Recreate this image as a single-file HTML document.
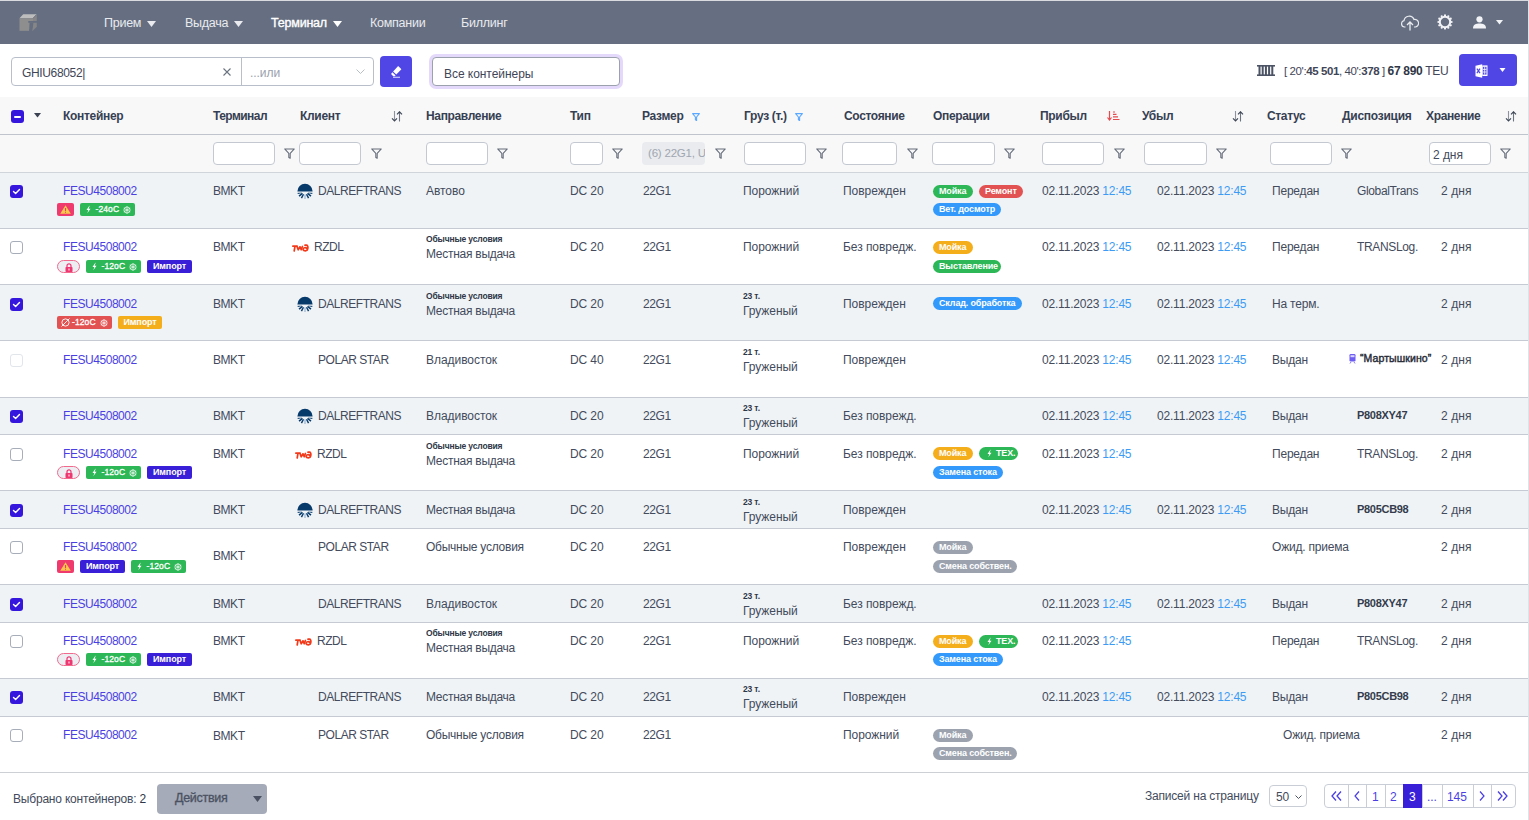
<!DOCTYPE html><html><head><meta charset="utf-8"><style>
*{margin:0;padding:0;box-sizing:border-box}
html,body{width:1529px;height:820px;overflow:hidden;background:#fff;font-family:"Liberation Sans",sans-serif;color:#434b5c}
.a{position:absolute}
.t{position:absolute;white-space:nowrap;line-height:1;letter-spacing:-0.05px}
.b{font-weight:bold}
.hd{color:#364052;font-weight:bold;letter-spacing:-0.3px}
.lnk{color:#4b3fe3;letter-spacing:-0.45px}
.up{letter-spacing:-0.45px}
.tm{color:#3d9bf5}
.sm{font-weight:bold;color:#2f3747;letter-spacing:-0.15px}
.inp{position:absolute;background:#fff;border:1px solid #c3c8d1;border-radius:4px}
.cb{position:absolute;width:13px;height:13px;border-radius:3px}
.cbon{background:#3416dc}
.cboff{background:#fff;border:1px solid #a7adb9}
.cbdis{background:#fff;border:1px solid #e2e5ea}
.tag{position:absolute;height:13px;border-radius:2px;color:#fff;font-weight:bold;font-size:9px;line-height:13px;white-space:nowrap;letter-spacing:-0.1px}
.pill{position:absolute;height:13px;border-radius:7px;color:#fff;font-weight:bold;font-size:9px;line-height:13px;white-space:nowrap;letter-spacing:-0.15px;padding-left:6px}
.nav{color:#e9ebef;letter-spacing:-0.25px}
</style></head><body>
<div class="a " style="left:0px;top:0px;width:1529px;height:44px;background:#666f81"></div>
<div class="a " style="left:0px;top:0px;width:1529px;height:1px;background:#d9dbe0"></div>
<svg class="a" style="left:19px;top:14px;" width="19" height="18" viewBox="0 0 19 18"><path d="M0.5 4.2 L4.2 0.3 H17.8 L14 4.2 Z" fill="#bdbdbd"/><rect x="0.5" y="4.2" width="13.5" height="12.6" fill="#8e8e8e"/><path d="M14 4.2 L17.8 0.5 V12.8 L14 16.5 Z" fill="#868686"/><path d="M14 4.2 L17.8 0.4" stroke="#666f81" stroke-width="0.7"/><rect x="9.3" y="7" width="9.5" height="1.8" fill="#666f81"/><path d="M10.6 8.7 H14.4 L13.4 17.5 H10 Z" fill="#666f81"/></svg>
<div class="t nav" style="left:104px;top:17.42px;font-size:12.5px;">Прием</div>
<svg class="a" style="left:147px;top:21px;" width="9" height="6" viewBox="0 0 9 6"><path d="M0 0 H9 L4.5 6 Z" fill="#e9ebef"/></svg>
<div class="t nav" style="left:185px;top:17.42px;font-size:12.5px;">Выдача</div>
<svg class="a" style="left:234px;top:21px;" width="9" height="6" viewBox="0 0 9 6"><path d="M0 0 H9 L4.5 6 Z" fill="#e9ebef"/></svg>
<div class="t nav" style="left:271px;top:17.42px;font-size:12.5px;color:#fff;-webkit-text-stroke:0.35px #fff;letter-spacing:-0.2px">Терминал</div>
<svg class="a" style="left:333px;top:21px;" width="9" height="6" viewBox="0 0 9 6"><path d="M0 0 H9 L4.5 6 Z" fill="#fff"/></svg>
<div class="t nav" style="left:370px;top:17.42px;font-size:12.5px;">Компании</div>
<div class="t nav" style="left:461px;top:17.42px;font-size:12.5px;">Биллинг</div>
<svg class="a" style="left:1401px;top:15px;" width="18" height="16" viewBox="0 0 18 16"><path d="M4.5 12 H3.5 A3.2 3.2 0 0 1 3 5.7 A5.2 5.2 0 0 1 13 4.5 A3.6 3.6 0 0 1 14.5 12 H13" fill="none" stroke="#e9ebef" stroke-width="1.2"/><path d="M9 15.5 V7.5 M6 10 L9 7 L12 10" fill="none" stroke="#e9ebef" stroke-width="1.3"/></svg>
<svg class="a" style="left:1437px;top:14px;" width="16" height="16" viewBox="0 0 16 16"><circle cx="8" cy="8" r="5.2" fill="none" stroke="#f2f3f6" stroke-width="2"/><circle cx="14.60" cy="8.00" r="1.1" fill="#f2f3f6"/><circle cx="13.72" cy="11.30" r="1.1" fill="#f2f3f6"/><circle cx="11.30" cy="13.72" r="1.1" fill="#f2f3f6"/><circle cx="8.00" cy="14.60" r="1.1" fill="#f2f3f6"/><circle cx="4.70" cy="13.72" r="1.1" fill="#f2f3f6"/><circle cx="2.28" cy="11.30" r="1.1" fill="#f2f3f6"/><circle cx="1.40" cy="8.00" r="1.1" fill="#f2f3f6"/><circle cx="2.28" cy="4.70" r="1.1" fill="#f2f3f6"/><circle cx="4.70" cy="2.28" r="1.1" fill="#f2f3f6"/><circle cx="8.00" cy="1.40" r="1.1" fill="#f2f3f6"/><circle cx="11.30" cy="2.28" r="1.1" fill="#f2f3f6"/><circle cx="13.72" cy="4.70" r="1.1" fill="#f2f3f6"/></svg>
<svg class="a" style="left:1473px;top:16px;" width="13" height="13" viewBox="0 0 13 13"><circle cx="6.5" cy="3.3" r="3.1" fill="#f2f3f6"/><path d="M0 12.5 C0 8.5 3 7.6 6.5 7.6 C10 7.6 13 8.5 13 12.5 Z" fill="#f2f3f6"/></svg>
<svg class="a" style="left:1496px;top:20px;" width="7" height="5" viewBox="0 0 7 5"><path d="M0 0 H7 L3.5 4.5 Z" fill="#f2f3f6"/></svg>
<div class="a " style="left:11px;top:57px;width:363px;height:29px;background:#fff;border:1px solid #b9bfca;border-radius:4px"></div>
<div class="a " style="left:241px;top:57px;width:1px;height:29px;background:#b9bfca"></div>
<div class="t " style="left:22px;top:66.84px;font-size:12px;color:#3f4657;letter-spacing:-0.35px">GHIU68052|</div>
<svg class="a" style="left:223px;top:68px;" width="8" height="8" viewBox="0 0 8 8"><path d="M0.5 0.5 L7.5 7.5 M7.5 0.5 L0.5 7.5" stroke="#6b7280" stroke-width="1.1"/></svg>
<div class="t " style="left:250px;top:66.84px;font-size:12px;color:#9aa1ad">...или</div>
<svg class="a" style="left:356px;top:69px;" width="9" height="6" viewBox="0 0 9 6"><path d="M0.5 0.5 L4.5 4.5 L8.5 0.5" stroke="#b8bec8" stroke-width="1" fill="none"/></svg>
<div class="a " style="left:380px;top:56px;width:32px;height:31px;background:#4f46e5;border-radius:4px"></div>
<svg class="a" style="left:389px;top:63px;" width="14" height="16" viewBox="0 0 14 16"><path d="M9.2 3.1 L12.4 6.3 L7.3 11.6 L4.1 8.4 Z" fill="#fff"/><path d="M3.4 9.2 L6.6 12.4 L5.7 13.2 H4.2 L2.1 11.1 Z" fill="#fff"/><path d="M4 14.3 H11" stroke="#c9c5f7" stroke-width="1.2"/></svg>
<div class="a " style="left:429px;top:54px;width:194px;height:35px;background:#e5d9fb;border-radius:7px"></div>
<div class="a " style="left:432px;top:57px;width:188px;height:29px;background:#fff;border:1px solid #9ba2ae;border-radius:4px"></div>
<div class="t " style="left:444px;top:67.84px;font-size:12px;color:#3f4657">Все контейнеры</div>
<svg class="a" style="left:1257px;top:65px;" width="18" height="11" viewBox="0 0 18 11"><rect x="0" y="0" width="18" height="1.6" fill="#4b5364"/><rect x="0" y="9.4" width="18" height="1.6" fill="#4b5364"/><rect x="1.5" y="1" width="2" height="9" fill="#4b5364"/><rect x="4.7" y="1" width="2" height="9" fill="#4b5364"/><rect x="7.9" y="1" width="2" height="9" fill="#4b5364"/><rect x="11.1" y="1" width="2" height="9" fill="#4b5364"/><rect x="14.3" y="1" width="2" height="9" fill="#4b5364"/></svg>
<div class="t" style="left:1284px;top:65.27px;font-size:11.5px;color:#3f4657;letter-spacing:-0.4px">[ 20':<b>45 501</b>, 40':<b>378</b> ] <b style="font-size:12px;color:#2f3747;letter-spacing:-0.3px">67 890</b> <span style="font-size:12px;letter-spacing:-0.3px">TEU</span></div>
<div class="a " style="left:1459px;top:54px;width:58px;height:32px;background:#4f46e5;border-radius:4px"></div>
<svg class="a" style="left:1475px;top:64px;" width="13" height="14" viewBox="0 0 13 14"><path d="M0.5 1.8 L7.2 0.2 V13.8 L0.5 12.2 Z" fill="#fff"/><path d="M1.9 4.6 L5 9.2 M5 4.6 L1.9 9.2" stroke="#4f46e5" stroke-width="1.2"/><rect x="7.2" y="1.4" width="5.3" height="10.6" fill="#fff"/><rect x="7.9" y="2.8" width="3.6" height="7.8" fill="#4f46e5"/><path d="M9.7 2.8 V10.6 M7.9 5.4 H11.5 M7.9 8 H11.5" stroke="#fff" stroke-width="0.8"/></svg>
<svg class="a" style="left:1499px;top:68px;" width="7" height="5" viewBox="0 0 7 5"><path d="M0.5 0 H6.5 L3.5 4 Z" fill="#fff"/></svg>
<div class="a " style="left:0px;top:97px;width:1528px;height:37px;background:#f8f8f9"></div>
<div class="a " style="left:0px;top:134px;width:1528px;height:38px;background:#f8f8f9"></div>
<div class="a " style="left:0px;top:134px;width:1528px;height:1px;background:#c0c5cd"></div>
<div class="cb cbon" style="left:11px;top:110px"></div>
<div class="a " style="left:14px;top:116px;width:7px;height:2px;background:#fff;border-radius:1px"></div>
<svg class="a" style="left:34px;top:113px;" width="7" height="5" viewBox="0 0 7 5"><path d="M0 0 H7 L3.5 4.5 Z" fill="#3a4150"/></svg>
<div class="t hd" style="left:63px;top:109.84px;font-size:12px;">Контейнер</div>
<div class="t hd" style="left:213px;top:109.84px;font-size:12px;letter-spacing:-0.55px">Терминал</div>
<div class="t hd" style="left:300px;top:109.84px;font-size:12px;">Клиент</div>
<div class="t hd" style="left:426px;top:109.84px;font-size:12px;letter-spacing:-0.35px">Направление</div>
<div class="t hd" style="left:570px;top:109.84px;font-size:12px;">Тип</div>
<div class="t hd" style="left:642px;top:109.84px;font-size:12px;">Размер</div>
<div class="t hd" style="left:744px;top:109.84px;font-size:12px;">Груз (т.)</div>
<div class="t hd" style="left:844px;top:109.84px;font-size:12px;letter-spacing:-0.35px">Состояние</div>
<div class="t hd" style="left:933px;top:109.84px;font-size:12px;letter-spacing:-0.35px">Операции</div>
<div class="t hd" style="left:1040px;top:109.84px;font-size:12px;">Прибыл</div>
<div class="t hd" style="left:1142px;top:109.84px;font-size:12px;">Убыл</div>
<div class="t hd" style="left:1267px;top:109.84px;font-size:12px;letter-spacing:-0.35px">Статус</div>
<div class="t hd" style="left:1342px;top:109.84px;font-size:12px;letter-spacing:-0.25px">Диспозиция</div>
<div class="t hd" style="left:1426px;top:109.84px;font-size:12px;letter-spacing:-0.35px">Хранение</div>
<svg class="a" style="left:391px;top:111px;" width="12" height="11" viewBox="0 0 12 11"><path d="M3.5 0 V9.5" stroke="#8e949f" stroke-width="1.1"/><path d="M1 7.4 L3.5 10 L6 7.4" stroke="#3f4757" stroke-width="1.2" fill="none"/><path d="M8.5 10.5 V1" stroke="#6b7280" stroke-width="1.1"/><path d="M6 3.3 L8.5 0.8 L11 3.3" stroke="#3f4757" stroke-width="1.2" fill="none"/></svg>
<svg class="a" style="left:1232px;top:111px;" width="12" height="11" viewBox="0 0 12 11"><path d="M3.5 0 V9.5" stroke="#8e949f" stroke-width="1.1"/><path d="M1 7.4 L3.5 10 L6 7.4" stroke="#3f4757" stroke-width="1.2" fill="none"/><path d="M8.5 10.5 V1" stroke="#6b7280" stroke-width="1.1"/><path d="M6 3.3 L8.5 0.8 L11 3.3" stroke="#3f4757" stroke-width="1.2" fill="none"/></svg>
<svg class="a" style="left:1505px;top:111px;" width="12" height="11" viewBox="0 0 12 11"><path d="M3.5 0 V9.5" stroke="#8e949f" stroke-width="1.1"/><path d="M1 7.4 L3.5 10 L6 7.4" stroke="#3f4757" stroke-width="1.2" fill="none"/><path d="M8.5 10.5 V1" stroke="#6b7280" stroke-width="1.1"/><path d="M6 3.3 L8.5 0.8 L11 3.3" stroke="#3f4757" stroke-width="1.2" fill="none"/></svg>
<svg class="a" style="left:1107px;top:111px;" width="13" height="10" viewBox="0 0 13 10"><path d="M2.5 0 V9 M0.5 6.5 L2.5 9 L4.5 6.5" stroke="#e5484d" stroke-width="1.2" fill="none"/><path d="M6 1 H8 M6 3.4 H9.5 M6 5.9 H11 M6 8.5 H12.5" stroke="#e5484d" stroke-width="1.1"/></svg>
<svg class="a" style="left:692px;top:113px;" width="8" height="8" viewBox="0 0 8 8"><path d="M0.6 0.6 H7.4 L4.6 4 V7.4 L3.4 6.8 V4 Z" fill="none" stroke="#5aa8ff" stroke-width="1.1" stroke-linejoin="round"/></svg>
<svg class="a" style="left:795px;top:113px;" width="8" height="8" viewBox="0 0 8 8"><path d="M0.6 0.6 H7.4 L4.6 4 V7.4 L3.4 6.8 V4 Z" fill="none" stroke="#5aa8ff" stroke-width="1.1" stroke-linejoin="round"/></svg>
<div class="inp" style="left:213px;top:142px;width:62px;height:23px"></div>
<svg class="a" style="left:284px;top:148px;" width="11" height="11" viewBox="0 0 11 11"><path d="M0.7 0.9 H10.3 L6.2 5.4 V10.3 L4.8 9.5 V5.4 Z" fill="none" stroke="#666d7a" stroke-width="1.05" stroke-linejoin="round"/></svg>
<div class="inp" style="left:299px;top:142px;width:62px;height:23px"></div>
<svg class="a" style="left:371px;top:148px;" width="11" height="11" viewBox="0 0 11 11"><path d="M0.7 0.9 H10.3 L6.2 5.4 V10.3 L4.8 9.5 V5.4 Z" fill="none" stroke="#666d7a" stroke-width="1.05" stroke-linejoin="round"/></svg>
<div class="inp" style="left:426px;top:142px;width:62px;height:23px"></div>
<svg class="a" style="left:497px;top:148px;" width="11" height="11" viewBox="0 0 11 11"><path d="M0.7 0.9 H10.3 L6.2 5.4 V10.3 L4.8 9.5 V5.4 Z" fill="none" stroke="#666d7a" stroke-width="1.05" stroke-linejoin="round"/></svg>
<div class="inp" style="left:570px;top:142px;width:33px;height:23px"></div>
<svg class="a" style="left:612px;top:148px;" width="11" height="11" viewBox="0 0 11 11"><path d="M0.7 0.9 H10.3 L6.2 5.4 V10.3 L4.8 9.5 V5.4 Z" fill="none" stroke="#666d7a" stroke-width="1.05" stroke-linejoin="round"/></svg>
<div class="a " style="left:642px;top:142px;width:63px;height:23px;background:#e9ebee;border-radius:4px"></div>
<div class="a" style="left:642px;top:142px;width:63px;height:23px;overflow:hidden"><div class="t" style="left:6px;top:6.27px;font-size:11.5px;color:#a0a6b1;letter-spacing:-0.2px">(6) 22G1, U</div></div>
<svg class="a" style="left:715px;top:148px;" width="11" height="11" viewBox="0 0 11 11"><path d="M0.7 0.9 H10.3 L6.2 5.4 V10.3 L4.8 9.5 V5.4 Z" fill="none" stroke="#666d7a" stroke-width="1.05" stroke-linejoin="round"/></svg>
<div class="inp" style="left:744px;top:142px;width:62px;height:23px"></div>
<svg class="a" style="left:816px;top:148px;" width="11" height="11" viewBox="0 0 11 11"><path d="M0.7 0.9 H10.3 L6.2 5.4 V10.3 L4.8 9.5 V5.4 Z" fill="none" stroke="#666d7a" stroke-width="1.05" stroke-linejoin="round"/></svg>
<div class="inp" style="left:842px;top:142px;width:55px;height:23px"></div>
<svg class="a" style="left:907px;top:148px;" width="11" height="11" viewBox="0 0 11 11"><path d="M0.7 0.9 H10.3 L6.2 5.4 V10.3 L4.8 9.5 V5.4 Z" fill="none" stroke="#666d7a" stroke-width="1.05" stroke-linejoin="round"/></svg>
<div class="inp" style="left:932px;top:142px;width:63px;height:23px"></div>
<svg class="a" style="left:1004px;top:148px;" width="11" height="11" viewBox="0 0 11 11"><path d="M0.7 0.9 H10.3 L6.2 5.4 V10.3 L4.8 9.5 V5.4 Z" fill="none" stroke="#666d7a" stroke-width="1.05" stroke-linejoin="round"/></svg>
<div class="inp" style="left:1042px;top:142px;width:62px;height:23px"></div>
<svg class="a" style="left:1114px;top:148px;" width="11" height="11" viewBox="0 0 11 11"><path d="M0.7 0.9 H10.3 L6.2 5.4 V10.3 L4.8 9.5 V5.4 Z" fill="none" stroke="#666d7a" stroke-width="1.05" stroke-linejoin="round"/></svg>
<div class="inp" style="left:1144px;top:142px;width:63px;height:23px"></div>
<svg class="a" style="left:1216px;top:148px;" width="11" height="11" viewBox="0 0 11 11"><path d="M0.7 0.9 H10.3 L6.2 5.4 V10.3 L4.8 9.5 V5.4 Z" fill="none" stroke="#666d7a" stroke-width="1.05" stroke-linejoin="round"/></svg>
<div class="inp" style="left:1270px;top:142px;width:62px;height:23px"></div>
<svg class="a" style="left:1341px;top:148px;" width="11" height="11" viewBox="0 0 11 11"><path d="M0.7 0.9 H10.3 L6.2 5.4 V10.3 L4.8 9.5 V5.4 Z" fill="none" stroke="#666d7a" stroke-width="1.05" stroke-linejoin="round"/></svg>
<div class="inp" style="left:1429px;top:142px;width:62px;height:23px"></div>
<svg class="a" style="left:1500px;top:148px;" width="11" height="11" viewBox="0 0 11 11"><path d="M0.7 0.9 H10.3 L6.2 5.4 V10.3 L4.8 9.5 V5.4 Z" fill="none" stroke="#666d7a" stroke-width="1.05" stroke-linejoin="round"/></svg>
<div class="t " style="left:1433px;top:148.84px;font-size:12px;color:#434b5c">2 дня</div>
<div class="a " style="left:0px;top:172px;width:1528px;height:56px;background:#eff3f6"></div>
<div class="a " style="left:0px;top:172px;width:1528px;height:1px;background:#d0d5db"></div>
<div class="cb cbon" style="left:10px;top:185px"></div>
<svg class="a" style="left:12px;top:187px;" width="9" height="9" viewBox="0 0 9 9"><path d="M1.5 4.6 L3.6 6.6 L7.5 2.4" stroke="#fff" stroke-width="1.4" fill="none" stroke-linecap="round" stroke-linejoin="round"/></svg>
<div class="t lnk" style="left:63px;top:184.84px;font-size:12px;">FESU4508002</div>
<div class="tag" style="left:57px;top:203px;width:17px;background:#ef3a6d"><svg class="a" style="left:3px;top:2px" width="11" height="9" viewBox="0 0 11 9"><path d="M5.5 0.2 L10.8 8.8 H0.2 Z" fill="#f7c948"/><path d="M5.5 3 V6.2 M5.5 7.2 V8" stroke="#ef3a6d" stroke-width="1.1"/></svg></div>
<div class="tag" style="left:80px;top:203px;width:55px;background:#2db757"><svg class="a" style="left:6px;top:2px" width="5" height="9" viewBox="0 0 6 9"><path d="M4 0 L0.6 5 H2.8 L1.6 9 L5.4 3.6 H3.2 L4.4 0 Z" fill="#fff"/></svg><span class="a" style="left:15.5px;top:0;font-weight:normal;font-size:8.5px;-webkit-text-stroke:0.3px #fff;letter-spacing:0.1px">-24oC</span><svg class="a" style="left:43px;top:2.5px" width="8" height="8" viewBox="0 0 8 8"><g stroke="#fff" stroke-width="0.8" fill="none" opacity="0.92"><path d="M4.00 7.70 L4.00 0.30"/><path d="M0.80 5.85 L7.20 2.15"/><path d="M0.80 2.15 L7.20 5.85"/><circle cx="4" cy="4" r="3.1"/></g></svg></div>
<div class="t up" style="left:213px;top:184.84px;font-size:12px;">BMKT</div>
<svg class="a" style="left:297px;top:183px;" width="16" height="16" viewBox="0 0 16 16"><defs><clipPath id="lc183"><rect x="0" y="9.7" width="16" height="8"/></clipPath></defs><path d="M0.4 8.4 A7.6 7.6 0 0 1 15.6 8.4 Z" fill="#063a6b"/><g clip-path="url(#lc183)" fill="none"><path d="M4.90 9.17 L0.63 10.24" stroke="#063a6b" stroke-width="1.5"/><path d="M5.48 10.37 L2.01 13.08" stroke="#063a6b" stroke-width="1.5"/><path d="M6.50 11.23 L4.43 15.11" stroke="#0b3f70" stroke-width="1.5"/><path d="M11.10 9.17 L15.37 10.24" stroke="#063a6b" stroke-width="1.5"/><path d="M10.52 10.37 L13.99 13.08" stroke="#063a6b" stroke-width="1.5"/><path d="M9.50 11.23 L11.57 15.11" stroke="#0b3f70" stroke-width="1.5"/><path d="M8.00 11.60 L8.00 16.00" stroke="#a9bfd4" stroke-width="1.5"/></g></svg>
<div class="t up" style="left:318px;top:184.84px;font-size:12px;">DALREFTRANS</div>
<div class="t " style="left:426px;top:184.84px;font-size:12px;letter-spacing:-0.05px">Автово</div>
<div class="t " style="left:570px;top:184.84px;font-size:12px;letter-spacing:-0.1px">DC 20</div>
<div class="t " style="left:643px;top:184.84px;font-size:12px;letter-spacing:-0.4px">22G1</div>
<div class="t " style="left:743px;top:184.84px;font-size:12px;">Порожний</div>
<div class="t " style="left:843px;top:184.84px;font-size:12px;">Поврежден</div>
<div class="pill" style="left:933px;top:185px;width:40px;background:#2db757">Мойка</div>
<div class="pill" style="left:979px;top:185px;width:44px;background:#e25252">Ремонт</div>
<div class="pill" style="left:933px;top:203px;width:68px;background:#3399fa">Вет. досмотр</div>
<div class="t " style="left:1042px;top:184.84px;font-size:12px;letter-spacing:-0.2px">02.11.2023 <span class="tm">12:45</span></div>
<div class="t " style="left:1157px;top:184.84px;font-size:12px;letter-spacing:-0.2px">02.11.2023 <span class="tm">12:45</span></div>
<div class="t " style="left:1272px;top:184.84px;font-size:12px;letter-spacing:-0.2px">Передан</div>
<div class="t " style="left:1357px;top:184.84px;font-size:12px;letter-spacing:-0.35px">GlobalTrans</div>
<div class="t " style="left:1441px;top:184.84px;font-size:12px;letter-spacing:0.1px">2 дня</div>
<div class="a " style="left:0px;top:228px;width:1528px;height:56px;background:#ffffff"></div>
<div class="a " style="left:0px;top:228px;width:1528px;height:1px;background:#c5cad3"></div>
<div class="cb cboff" style="left:10px;top:241px"></div>
<div class="t lnk" style="left:63px;top:240.84px;font-size:12px;">FESU4508002</div>
<div class="a" style="left:57px;top:260px;width:23px;height:13px;border:1px solid #f06a8e;border-radius:7px;background:#eceef2"><svg class="a" style="left:7px;top:1.5px" width="8" height="9" viewBox="0 0 8 9"><path d="M2 4 V2.8 A2 2 0 0 1 6 2.8 V4" stroke="#ee3670" stroke-width="1.2" fill="none"/><rect x="0.5" y="4" width="7" height="5" rx="0.8" fill="#ee3670"/><rect x="3.5" y="5.5" width="1" height="2" fill="#fff"/></svg></div>
<div class="tag" style="left:86px;top:260px;width:55px;background:#2db757"><svg class="a" style="left:6px;top:2px" width="5" height="9" viewBox="0 0 6 9"><path d="M4 0 L0.6 5 H2.8 L1.6 9 L5.4 3.6 H3.2 L4.4 0 Z" fill="#fff"/></svg><span class="a" style="left:15.5px;top:0;font-weight:normal;font-size:8.5px;-webkit-text-stroke:0.3px #fff;letter-spacing:0.1px">-12oC</span><svg class="a" style="left:43px;top:2.5px" width="8" height="8" viewBox="0 0 8 8"><g stroke="#fff" stroke-width="0.8" fill="none" opacity="0.92"><path d="M4.00 7.70 L4.00 0.30"/><path d="M0.80 5.85 L7.20 2.15"/><path d="M0.80 2.15 L7.20 5.85"/><circle cx="4" cy="4" r="3.1"/></g></svg></div>
<div class="tag" style="left:147px;top:260px;width:45px;background:#3a1fd8;text-align:center">Импорт</div>
<div class="t up" style="left:213px;top:240.84px;font-size:12px;">BMKT</div>
<svg class="a" style="left:292px;top:244px;" width="17" height="8" viewBox="0 0 17 8"><g fill="none" stroke="#f23a1a" stroke-width="1.7" stroke-linejoin="round" stroke-linecap="round"><path d="M0.8 2.2 H5 M3 2.2 L2.2 7"/><path d="M5 2.5 L6.2 5.8 L8 2.8 L9.2 5.8 L10.4 2.5"/><path d="M11 5.5 C11 3.5 14 3.2 14.8 4.5 M13 1.2 H14.5 C16.5 1.2 16.5 6.8 13.5 6.8 C11.5 6.8 11 5.5 11 5.5"/></g></svg>
<div class="t up" style="left:314px;top:240.84px;font-size:12px;">RZDL</div>
<div class="t sm" style="left:426px;top:234.80px;font-size:8.5px;">Обычные условия</div>
<div class="t " style="left:426px;top:247.84px;font-size:12px;letter-spacing:-0.27px">Местная выдача</div>
<div class="t " style="left:570px;top:240.84px;font-size:12px;letter-spacing:-0.1px">DC 20</div>
<div class="t " style="left:643px;top:240.84px;font-size:12px;letter-spacing:-0.4px">22G1</div>
<div class="t " style="left:743px;top:240.84px;font-size:12px;">Порожний</div>
<div class="t " style="left:843px;top:240.84px;font-size:12px;">Без повредж.</div>
<div class="pill" style="left:933px;top:241px;width:40px;background:#f5ae1b">Мойка</div>
<div class="pill" style="left:933px;top:260px;width:68px;background:#2db757">Выставление</div>
<div class="t " style="left:1042px;top:240.84px;font-size:12px;letter-spacing:-0.2px">02.11.2023 <span class="tm">12:45</span></div>
<div class="t " style="left:1157px;top:240.84px;font-size:12px;letter-spacing:-0.2px">02.11.2023 <span class="tm">12:45</span></div>
<div class="t " style="left:1272px;top:240.84px;font-size:12px;letter-spacing:-0.2px">Передан</div>
<div class="t " style="left:1357px;top:240.84px;font-size:12px;letter-spacing:-0.35px">TRANSLog.</div>
<div class="t " style="left:1441px;top:240.84px;font-size:12px;letter-spacing:0.1px">2 дня</div>
<div class="a " style="left:0px;top:284px;width:1528px;height:56px;background:#eff3f6"></div>
<div class="a " style="left:0px;top:284px;width:1528px;height:1px;background:#c5cad3"></div>
<div class="cb cbon" style="left:10px;top:298px"></div>
<svg class="a" style="left:12px;top:300px;" width="9" height="9" viewBox="0 0 9 9"><path d="M1.5 4.6 L3.6 6.6 L7.5 2.4" stroke="#fff" stroke-width="1.4" fill="none" stroke-linecap="round" stroke-linejoin="round"/></svg>
<div class="t lnk" style="left:63px;top:297.84px;font-size:12px;">FESU4508002</div>
<div class="tag" style="left:57px;top:316px;width:55px;background:#e25252"><svg class="a" style="left:4px;top:2px" width="9" height="9" viewBox="0 0 9 9"><circle cx="4.5" cy="4.5" r="3.6" stroke="#fff" stroke-width="0.9" fill="none"/><path d="M0.5 8.5 L8.5 0.5" stroke="#fff" stroke-width="0.9"/></svg><span class="a" style="left:15px;top:0;font-weight:normal;font-size:8.5px;-webkit-text-stroke:0.3px #fff;letter-spacing:0.1px">-12oC</span><svg class="a" style="left:43px;top:2.5px" width="8" height="8" viewBox="0 0 8 8"><g stroke="#fff" stroke-width="0.8" fill="none" opacity="0.92"><path d="M4.00 7.70 L4.00 0.30"/><path d="M0.80 5.85 L7.20 2.15"/><path d="M0.80 2.15 L7.20 5.85"/><circle cx="4" cy="4" r="3.1"/></g></svg></div>
<div class="tag" style="left:118px;top:316px;width:44px;background:#f5ae1b;text-align:center">Импорт</div>
<div class="t up" style="left:213px;top:297.84px;font-size:12px;">BMKT</div>
<svg class="a" style="left:297px;top:296px;" width="16" height="16" viewBox="0 0 16 16"><defs><clipPath id="lc296"><rect x="0" y="9.7" width="16" height="8"/></clipPath></defs><path d="M0.4 8.4 A7.6 7.6 0 0 1 15.6 8.4 Z" fill="#063a6b"/><g clip-path="url(#lc296)" fill="none"><path d="M4.90 9.17 L0.63 10.24" stroke="#063a6b" stroke-width="1.5"/><path d="M5.48 10.37 L2.01 13.08" stroke="#063a6b" stroke-width="1.5"/><path d="M6.50 11.23 L4.43 15.11" stroke="#0b3f70" stroke-width="1.5"/><path d="M11.10 9.17 L15.37 10.24" stroke="#063a6b" stroke-width="1.5"/><path d="M10.52 10.37 L13.99 13.08" stroke="#063a6b" stroke-width="1.5"/><path d="M9.50 11.23 L11.57 15.11" stroke="#0b3f70" stroke-width="1.5"/><path d="M8.00 11.60 L8.00 16.00" stroke="#a9bfd4" stroke-width="1.5"/></g></svg>
<div class="t up" style="left:318px;top:297.84px;font-size:12px;">DALREFTRANS</div>
<div class="t sm" style="left:426px;top:291.80px;font-size:8.5px;">Обычные условия</div>
<div class="t " style="left:426px;top:304.84px;font-size:12px;letter-spacing:-0.27px">Местная выдача</div>
<div class="t " style="left:570px;top:297.84px;font-size:12px;letter-spacing:-0.1px">DC 20</div>
<div class="t " style="left:643px;top:297.84px;font-size:12px;letter-spacing:-0.4px">22G1</div>
<div class="t sm" style="left:743px;top:291.80px;font-size:8.5px;">23 т.</div>
<div class="t " style="left:743px;top:304.84px;font-size:12px;">Груженый</div>
<div class="t " style="left:843px;top:297.84px;font-size:12px;">Поврежден</div>
<div class="pill" style="left:933px;top:297px;width:89px;background:#3399fa">Склад. обработка</div>
<div class="t " style="left:1042px;top:297.84px;font-size:12px;letter-spacing:-0.2px">02.11.2023 <span class="tm">12:45</span></div>
<div class="t " style="left:1157px;top:297.84px;font-size:12px;letter-spacing:-0.2px">02.11.2023 <span class="tm">12:45</span></div>
<div class="t " style="left:1272px;top:297.84px;font-size:12px;letter-spacing:-0.2px">На терм.</div>
<div class="t " style="left:1441px;top:297.84px;font-size:12px;letter-spacing:0.1px">2 дня</div>
<div class="a " style="left:0px;top:340px;width:1528px;height:57px;background:#ffffff"></div>
<div class="a " style="left:0px;top:340px;width:1528px;height:1px;background:#c5cad3"></div>
<div class="cb cbdis" style="left:10px;top:354px"></div>
<div class="t lnk" style="left:63px;top:353.84px;font-size:12px;">FESU4508002</div>
<div class="t up" style="left:213px;top:353.84px;font-size:12px;">BMKT</div>
<div class="t up" style="left:318px;top:353.84px;font-size:12px;">POLAR STAR</div>
<div class="t " style="left:426px;top:353.84px;font-size:12px;letter-spacing:-0.05px">Владивосток</div>
<div class="t " style="left:570px;top:353.84px;font-size:12px;letter-spacing:-0.1px">DC 40</div>
<div class="t " style="left:643px;top:353.84px;font-size:12px;letter-spacing:-0.4px">22G1</div>
<div class="t sm" style="left:743px;top:347.80px;font-size:8.5px;">21 т.</div>
<div class="t " style="left:743px;top:360.84px;font-size:12px;">Груженый</div>
<div class="t " style="left:843px;top:353.84px;font-size:12px;">Поврежден</div>
<div class="t " style="left:1042px;top:353.84px;font-size:12px;letter-spacing:-0.2px">02.11.2023 <span class="tm">12:45</span></div>
<div class="t " style="left:1157px;top:353.84px;font-size:12px;letter-spacing:-0.2px">02.11.2023 <span class="tm">12:45</span></div>
<div class="t " style="left:1272px;top:353.84px;font-size:12px;letter-spacing:-0.2px">Выдан</div>
<svg class="a" style="left:1349px;top:354px;" width="7" height="10" viewBox="0 0 7 10"><rect x="0.5" y="0" width="6" height="7.5" rx="1.3" fill="#6d5df0"/><rect x="1.5" y="1.2" width="4" height="2" fill="#d8d3ff"/><path d="M1 9.5 L2 8 M6 9.5 L5 8" stroke="#8a7ef2" stroke-width="1"/></svg>
<div class="t " style="left:1360px;top:353.11px;font-size:10.5px;color:#252a36;letter-spacing:0.1px;-webkit-text-stroke:0.4px #252a36">“Мартышкино”</div>
<div class="t " style="left:1441px;top:353.84px;font-size:12px;letter-spacing:0.1px">2 дня</div>
<div class="a " style="left:0px;top:397px;width:1528px;height:37px;background:#eff3f6"></div>
<div class="a " style="left:0px;top:397px;width:1528px;height:1px;background:#c5cad3"></div>
<div class="cb cbon" style="left:10px;top:410px"></div>
<svg class="a" style="left:12px;top:412px;" width="9" height="9" viewBox="0 0 9 9"><path d="M1.5 4.6 L3.6 6.6 L7.5 2.4" stroke="#fff" stroke-width="1.4" fill="none" stroke-linecap="round" stroke-linejoin="round"/></svg>
<div class="t lnk" style="left:63px;top:409.84px;font-size:12px;">FESU4508002</div>
<div class="t up" style="left:213px;top:409.84px;font-size:12px;">BMKT</div>
<svg class="a" style="left:297px;top:408px;" width="16" height="16" viewBox="0 0 16 16"><defs><clipPath id="lc408"><rect x="0" y="9.7" width="16" height="8"/></clipPath></defs><path d="M0.4 8.4 A7.6 7.6 0 0 1 15.6 8.4 Z" fill="#063a6b"/><g clip-path="url(#lc408)" fill="none"><path d="M4.90 9.17 L0.63 10.24" stroke="#063a6b" stroke-width="1.5"/><path d="M5.48 10.37 L2.01 13.08" stroke="#063a6b" stroke-width="1.5"/><path d="M6.50 11.23 L4.43 15.11" stroke="#0b3f70" stroke-width="1.5"/><path d="M11.10 9.17 L15.37 10.24" stroke="#063a6b" stroke-width="1.5"/><path d="M10.52 10.37 L13.99 13.08" stroke="#063a6b" stroke-width="1.5"/><path d="M9.50 11.23 L11.57 15.11" stroke="#0b3f70" stroke-width="1.5"/><path d="M8.00 11.60 L8.00 16.00" stroke="#a9bfd4" stroke-width="1.5"/></g></svg>
<div class="t up" style="left:318px;top:409.84px;font-size:12px;">DALREFTRANS</div>
<div class="t " style="left:426px;top:409.84px;font-size:12px;letter-spacing:-0.05px">Владивосток</div>
<div class="t " style="left:570px;top:409.84px;font-size:12px;letter-spacing:-0.1px">DC 20</div>
<div class="t " style="left:643px;top:409.84px;font-size:12px;letter-spacing:-0.4px">22G1</div>
<div class="t sm" style="left:743px;top:403.80px;font-size:8.5px;">23 т.</div>
<div class="t " style="left:743px;top:416.84px;font-size:12px;">Груженый</div>
<div class="t " style="left:843px;top:409.84px;font-size:12px;">Без поврежд.</div>
<div class="t " style="left:1042px;top:409.84px;font-size:12px;letter-spacing:-0.2px">02.11.2023 <span class="tm">12:45</span></div>
<div class="t " style="left:1157px;top:409.84px;font-size:12px;letter-spacing:-0.2px">02.11.2023 <span class="tm">12:45</span></div>
<div class="t " style="left:1272px;top:409.84px;font-size:12px;letter-spacing:-0.2px">Выдан</div>
<div class="t b" style="left:1357px;top:409.69px;font-size:11px;color:#343c4c;letter-spacing:-0.3px">P808XY47</div>
<div class="t " style="left:1441px;top:409.84px;font-size:12px;letter-spacing:0.1px">2 дня</div>
<div class="a " style="left:0px;top:434px;width:1528px;height:56px;background:#ffffff"></div>
<div class="a " style="left:0px;top:434px;width:1528px;height:1px;background:#c5cad3"></div>
<div class="cb cboff" style="left:10px;top:448px"></div>
<div class="t lnk" style="left:63px;top:447.84px;font-size:12px;">FESU4508002</div>
<div class="a" style="left:57px;top:466px;width:23px;height:13px;border:1px solid #f06a8e;border-radius:7px;background:#eceef2"><svg class="a" style="left:7px;top:1.5px" width="8" height="9" viewBox="0 0 8 9"><path d="M2 4 V2.8 A2 2 0 0 1 6 2.8 V4" stroke="#ee3670" stroke-width="1.2" fill="none"/><rect x="0.5" y="4" width="7" height="5" rx="0.8" fill="#ee3670"/><rect x="3.5" y="5.5" width="1" height="2" fill="#fff"/></svg></div>
<div class="tag" style="left:86px;top:466px;width:55px;background:#2db757"><svg class="a" style="left:6px;top:2px" width="5" height="9" viewBox="0 0 6 9"><path d="M4 0 L0.6 5 H2.8 L1.6 9 L5.4 3.6 H3.2 L4.4 0 Z" fill="#fff"/></svg><span class="a" style="left:15.5px;top:0;font-weight:normal;font-size:8.5px;-webkit-text-stroke:0.3px #fff;letter-spacing:0.1px">-12oC</span><svg class="a" style="left:43px;top:2.5px" width="8" height="8" viewBox="0 0 8 8"><g stroke="#fff" stroke-width="0.8" fill="none" opacity="0.92"><path d="M4.00 7.70 L4.00 0.30"/><path d="M0.80 5.85 L7.20 2.15"/><path d="M0.80 2.15 L7.20 5.85"/><circle cx="4" cy="4" r="3.1"/></g></svg></div>
<div class="tag" style="left:147px;top:466px;width:45px;background:#3a1fd8;text-align:center">Импорт</div>
<div class="t up" style="left:213px;top:447.84px;font-size:12px;">BMKT</div>
<svg class="a" style="left:295px;top:451px;" width="17" height="8" viewBox="0 0 17 8"><g fill="none" stroke="#f23a1a" stroke-width="1.7" stroke-linejoin="round" stroke-linecap="round"><path d="M0.8 2.2 H5 M3 2.2 L2.2 7"/><path d="M5 2.5 L6.2 5.8 L8 2.8 L9.2 5.8 L10.4 2.5"/><path d="M11 5.5 C11 3.5 14 3.2 14.8 4.5 M13 1.2 H14.5 C16.5 1.2 16.5 6.8 13.5 6.8 C11.5 6.8 11 5.5 11 5.5"/></g></svg>
<div class="t up" style="left:317px;top:447.84px;font-size:12px;">RZDL</div>
<div class="t sm" style="left:426px;top:441.80px;font-size:8.5px;">Обычные условия</div>
<div class="t " style="left:426px;top:454.84px;font-size:12px;letter-spacing:-0.27px">Местная выдача</div>
<div class="t " style="left:570px;top:447.84px;font-size:12px;letter-spacing:-0.1px">DC 20</div>
<div class="t " style="left:643px;top:447.84px;font-size:12px;letter-spacing:-0.4px">22G1</div>
<div class="t " style="left:743px;top:447.84px;font-size:12px;">Порожний</div>
<div class="t " style="left:843px;top:447.84px;font-size:12px;">Без повредж.</div>
<div class="pill" style="left:933px;top:447px;width:40px;background:#f5ae1b">Мойка</div>
<div class="pill" style="left:979px;top:447px;width:39px;background:#2db757;padding-left:0"><svg class="a" style="left:8px;top:2px" width="5" height="9" viewBox="0 0 6 9"><path d="M4 0 L0.6 5 H2.8 L1.6 9 L5.4 3.6 H3.2 L4.4 0 Z" fill="#fff"/></svg><span class="a" style="left:17px;top:0">ТЕХ.</span></div>
<div class="pill" style="left:933px;top:466px;width:70px;background:#3399fa">Замена стока</div>
<div class="t " style="left:1042px;top:447.84px;font-size:12px;letter-spacing:-0.2px">02.11.2023 <span class="tm">12:45</span></div>
<div class="t " style="left:1272px;top:447.84px;font-size:12px;letter-spacing:-0.2px">Передан</div>
<div class="t " style="left:1357px;top:447.84px;font-size:12px;letter-spacing:-0.35px">TRANSLog.</div>
<div class="t " style="left:1441px;top:447.84px;font-size:12px;letter-spacing:0.1px">2 дня</div>
<div class="a " style="left:0px;top:490px;width:1528px;height:38px;background:#eff3f6"></div>
<div class="a " style="left:0px;top:490px;width:1528px;height:1px;background:#c5cad3"></div>
<div class="cb cbon" style="left:10px;top:504px"></div>
<svg class="a" style="left:12px;top:506px;" width="9" height="9" viewBox="0 0 9 9"><path d="M1.5 4.6 L3.6 6.6 L7.5 2.4" stroke="#fff" stroke-width="1.4" fill="none" stroke-linecap="round" stroke-linejoin="round"/></svg>
<div class="t lnk" style="left:63px;top:503.84px;font-size:12px;">FESU4508002</div>
<div class="t up" style="left:213px;top:503.84px;font-size:12px;">BMKT</div>
<svg class="a" style="left:297px;top:502px;" width="16" height="16" viewBox="0 0 16 16"><defs><clipPath id="lc502"><rect x="0" y="9.7" width="16" height="8"/></clipPath></defs><path d="M0.4 8.4 A7.6 7.6 0 0 1 15.6 8.4 Z" fill="#063a6b"/><g clip-path="url(#lc502)" fill="none"><path d="M4.90 9.17 L0.63 10.24" stroke="#063a6b" stroke-width="1.5"/><path d="M5.48 10.37 L2.01 13.08" stroke="#063a6b" stroke-width="1.5"/><path d="M6.50 11.23 L4.43 15.11" stroke="#0b3f70" stroke-width="1.5"/><path d="M11.10 9.17 L15.37 10.24" stroke="#063a6b" stroke-width="1.5"/><path d="M10.52 10.37 L13.99 13.08" stroke="#063a6b" stroke-width="1.5"/><path d="M9.50 11.23 L11.57 15.11" stroke="#0b3f70" stroke-width="1.5"/><path d="M8.00 11.60 L8.00 16.00" stroke="#a9bfd4" stroke-width="1.5"/></g></svg>
<div class="t up" style="left:318px;top:503.84px;font-size:12px;">DALREFTRANS</div>
<div class="t " style="left:426px;top:503.84px;font-size:12px;letter-spacing:-0.27px">Местная выдача</div>
<div class="t " style="left:570px;top:503.84px;font-size:12px;letter-spacing:-0.1px">DC 20</div>
<div class="t " style="left:643px;top:503.84px;font-size:12px;letter-spacing:-0.4px">22G1</div>
<div class="t sm" style="left:743px;top:497.80px;font-size:8.5px;">23 т.</div>
<div class="t " style="left:743px;top:510.84px;font-size:12px;">Груженый</div>
<div class="t " style="left:843px;top:503.84px;font-size:12px;">Поврежден</div>
<div class="t " style="left:1042px;top:503.84px;font-size:12px;letter-spacing:-0.2px">02.11.2023 <span class="tm">12:45</span></div>
<div class="t " style="left:1157px;top:503.84px;font-size:12px;letter-spacing:-0.2px">02.11.2023 <span class="tm">12:45</span></div>
<div class="t " style="left:1272px;top:503.84px;font-size:12px;letter-spacing:-0.2px">Выдан</div>
<div class="t b" style="left:1357px;top:503.69px;font-size:11px;color:#343c4c;letter-spacing:-0.3px">P805CB98</div>
<div class="t " style="left:1441px;top:503.84px;font-size:12px;letter-spacing:0.1px">2 дня</div>
<div class="a " style="left:0px;top:528px;width:1528px;height:56px;background:#ffffff"></div>
<div class="a " style="left:0px;top:528px;width:1528px;height:1px;background:#c5cad3"></div>
<div class="cb cboff" style="left:10px;top:541px"></div>
<div class="t lnk" style="left:63px;top:540.84px;font-size:12px;">FESU4508002</div>
<div class="tag" style="left:57px;top:560px;width:17px;background:#ef3a6d"><svg class="a" style="left:3px;top:2px" width="11" height="9" viewBox="0 0 11 9"><path d="M5.5 0.2 L10.8 8.8 H0.2 Z" fill="#f7c948"/><path d="M5.5 3 V6.2 M5.5 7.2 V8" stroke="#ef3a6d" stroke-width="1.1"/></svg></div>
<div class="tag" style="left:80px;top:560px;width:45px;background:#3a1fd8;text-align:center">Импорт</div>
<div class="tag" style="left:131px;top:560px;width:55px;background:#2db757"><svg class="a" style="left:6px;top:2px" width="5" height="9" viewBox="0 0 6 9"><path d="M4 0 L0.6 5 H2.8 L1.6 9 L5.4 3.6 H3.2 L4.4 0 Z" fill="#fff"/></svg><span class="a" style="left:15.5px;top:0;font-weight:normal;font-size:8.5px;-webkit-text-stroke:0.3px #fff;letter-spacing:0.1px">-12oC</span><svg class="a" style="left:43px;top:2.5px" width="8" height="8" viewBox="0 0 8 8"><g stroke="#fff" stroke-width="0.8" fill="none" opacity="0.92"><path d="M4.00 7.70 L4.00 0.30"/><path d="M0.80 5.85 L7.20 2.15"/><path d="M0.80 2.15 L7.20 5.85"/><circle cx="4" cy="4" r="3.1"/></g></svg></div>
<div class="t up" style="left:213px;top:549.84px;font-size:12px;">BMKT</div>
<div class="t up" style="left:318px;top:540.84px;font-size:12px;">POLAR STAR</div>
<div class="t " style="left:426px;top:540.84px;font-size:12px;letter-spacing:-0.25px">Обычные условия</div>
<div class="t " style="left:570px;top:540.84px;font-size:12px;letter-spacing:-0.1px">DC 20</div>
<div class="t " style="left:643px;top:540.84px;font-size:12px;letter-spacing:-0.4px">22G1</div>
<div class="t " style="left:843px;top:540.84px;font-size:12px;">Поврежден</div>
<div class="pill" style="left:933px;top:541px;width:40px;background:#9ca3af">Мойка</div>
<div class="pill" style="left:933px;top:560px;width:84px;background:#9ca3af">Смена собствен.</div>
<div class="t " style="left:1272px;top:540.84px;font-size:12px;letter-spacing:-0.2px">Ожид. приема</div>
<div class="t " style="left:1441px;top:540.84px;font-size:12px;letter-spacing:0.1px">2 дня</div>
<div class="a " style="left:0px;top:584px;width:1528px;height:38px;background:#eff3f6"></div>
<div class="a " style="left:0px;top:584px;width:1528px;height:1px;background:#c5cad3"></div>
<div class="cb cbon" style="left:10px;top:598px"></div>
<svg class="a" style="left:12px;top:600px;" width="9" height="9" viewBox="0 0 9 9"><path d="M1.5 4.6 L3.6 6.6 L7.5 2.4" stroke="#fff" stroke-width="1.4" fill="none" stroke-linecap="round" stroke-linejoin="round"/></svg>
<div class="t lnk" style="left:63px;top:597.84px;font-size:12px;">FESU4508002</div>
<div class="t up" style="left:213px;top:597.84px;font-size:12px;">BMKT</div>
<div class="t up" style="left:318px;top:597.84px;font-size:12px;">DALREFTRANS</div>
<div class="t " style="left:426px;top:597.84px;font-size:12px;letter-spacing:-0.05px">Владивосток</div>
<div class="t " style="left:570px;top:597.84px;font-size:12px;letter-spacing:-0.1px">DC 20</div>
<div class="t " style="left:643px;top:597.84px;font-size:12px;letter-spacing:-0.4px">22G1</div>
<div class="t sm" style="left:743px;top:591.80px;font-size:8.5px;">23 т.</div>
<div class="t " style="left:743px;top:604.84px;font-size:12px;">Груженый</div>
<div class="t " style="left:843px;top:597.84px;font-size:12px;">Без поврежд.</div>
<div class="t " style="left:1042px;top:597.84px;font-size:12px;letter-spacing:-0.2px">02.11.2023 <span class="tm">12:45</span></div>
<div class="t " style="left:1157px;top:597.84px;font-size:12px;letter-spacing:-0.2px">02.11.2023 <span class="tm">12:45</span></div>
<div class="t " style="left:1272px;top:597.84px;font-size:12px;letter-spacing:-0.2px">Выдан</div>
<div class="t b" style="left:1357px;top:597.69px;font-size:11px;color:#343c4c;letter-spacing:-0.3px">P808XY47</div>
<div class="t " style="left:1441px;top:597.84px;font-size:12px;letter-spacing:0.1px">2 дня</div>
<div class="a " style="left:0px;top:622px;width:1528px;height:56px;background:#ffffff"></div>
<div class="a " style="left:0px;top:622px;width:1528px;height:1px;background:#c5cad3"></div>
<div class="cb cboff" style="left:10px;top:635px"></div>
<div class="t lnk" style="left:63px;top:634.84px;font-size:12px;">FESU4508002</div>
<div class="a" style="left:57px;top:653px;width:23px;height:13px;border:1px solid #f06a8e;border-radius:7px;background:#eceef2"><svg class="a" style="left:7px;top:1.5px" width="8" height="9" viewBox="0 0 8 9"><path d="M2 4 V2.8 A2 2 0 0 1 6 2.8 V4" stroke="#ee3670" stroke-width="1.2" fill="none"/><rect x="0.5" y="4" width="7" height="5" rx="0.8" fill="#ee3670"/><rect x="3.5" y="5.5" width="1" height="2" fill="#fff"/></svg></div>
<div class="tag" style="left:86px;top:653px;width:55px;background:#2db757"><svg class="a" style="left:6px;top:2px" width="5" height="9" viewBox="0 0 6 9"><path d="M4 0 L0.6 5 H2.8 L1.6 9 L5.4 3.6 H3.2 L4.4 0 Z" fill="#fff"/></svg><span class="a" style="left:15.5px;top:0;font-weight:normal;font-size:8.5px;-webkit-text-stroke:0.3px #fff;letter-spacing:0.1px">-12oC</span><svg class="a" style="left:43px;top:2.5px" width="8" height="8" viewBox="0 0 8 8"><g stroke="#fff" stroke-width="0.8" fill="none" opacity="0.92"><path d="M4.00 7.70 L4.00 0.30"/><path d="M0.80 5.85 L7.20 2.15"/><path d="M0.80 2.15 L7.20 5.85"/><circle cx="4" cy="4" r="3.1"/></g></svg></div>
<div class="tag" style="left:147px;top:653px;width:45px;background:#3a1fd8;text-align:center">Импорт</div>
<div class="t up" style="left:213px;top:634.84px;font-size:12px;">BMKT</div>
<svg class="a" style="left:295px;top:638px;" width="17" height="8" viewBox="0 0 17 8"><g fill="none" stroke="#f23a1a" stroke-width="1.7" stroke-linejoin="round" stroke-linecap="round"><path d="M0.8 2.2 H5 M3 2.2 L2.2 7"/><path d="M5 2.5 L6.2 5.8 L8 2.8 L9.2 5.8 L10.4 2.5"/><path d="M11 5.5 C11 3.5 14 3.2 14.8 4.5 M13 1.2 H14.5 C16.5 1.2 16.5 6.8 13.5 6.8 C11.5 6.8 11 5.5 11 5.5"/></g></svg>
<div class="t up" style="left:317px;top:634.84px;font-size:12px;">RZDL</div>
<div class="t sm" style="left:426px;top:628.80px;font-size:8.5px;">Обычные условия</div>
<div class="t " style="left:426px;top:641.84px;font-size:12px;letter-spacing:-0.27px">Местная выдача</div>
<div class="t " style="left:570px;top:634.84px;font-size:12px;letter-spacing:-0.1px">DC 20</div>
<div class="t " style="left:643px;top:634.84px;font-size:12px;letter-spacing:-0.4px">22G1</div>
<div class="t " style="left:743px;top:634.84px;font-size:12px;">Порожний</div>
<div class="t " style="left:843px;top:634.84px;font-size:12px;">Без повредж.</div>
<div class="pill" style="left:933px;top:635px;width:40px;background:#f5ae1b">Мойка</div>
<div class="pill" style="left:979px;top:635px;width:39px;background:#2db757;padding-left:0"><svg class="a" style="left:8px;top:2px" width="5" height="9" viewBox="0 0 6 9"><path d="M4 0 L0.6 5 H2.8 L1.6 9 L5.4 3.6 H3.2 L4.4 0 Z" fill="#fff"/></svg><span class="a" style="left:17px;top:0">ТЕХ.</span></div>
<div class="pill" style="left:933px;top:653px;width:70px;background:#3399fa">Замена стока</div>
<div class="t " style="left:1042px;top:634.84px;font-size:12px;letter-spacing:-0.2px">02.11.2023 <span class="tm">12:45</span></div>
<div class="t " style="left:1272px;top:634.84px;font-size:12px;letter-spacing:-0.2px">Передан</div>
<div class="t " style="left:1357px;top:634.84px;font-size:12px;letter-spacing:-0.35px">TRANSLog.</div>
<div class="t " style="left:1441px;top:634.84px;font-size:12px;letter-spacing:0.1px">2 дня</div>
<div class="a " style="left:0px;top:678px;width:1528px;height:38px;background:#eff3f6"></div>
<div class="a " style="left:0px;top:678px;width:1528px;height:1px;background:#c5cad3"></div>
<div class="cb cbon" style="left:10px;top:691px"></div>
<svg class="a" style="left:12px;top:693px;" width="9" height="9" viewBox="0 0 9 9"><path d="M1.5 4.6 L3.6 6.6 L7.5 2.4" stroke="#fff" stroke-width="1.4" fill="none" stroke-linecap="round" stroke-linejoin="round"/></svg>
<div class="t lnk" style="left:63px;top:690.84px;font-size:12px;">FESU4508002</div>
<div class="t up" style="left:213px;top:690.84px;font-size:12px;">BMKT</div>
<div class="t up" style="left:318px;top:690.84px;font-size:12px;">DALREFTRANS</div>
<div class="t " style="left:426px;top:690.84px;font-size:12px;letter-spacing:-0.27px">Местная выдача</div>
<div class="t " style="left:570px;top:690.84px;font-size:12px;letter-spacing:-0.1px">DC 20</div>
<div class="t " style="left:643px;top:690.84px;font-size:12px;letter-spacing:-0.4px">22G1</div>
<div class="t sm" style="left:743px;top:684.80px;font-size:8.5px;">23 т.</div>
<div class="t " style="left:743px;top:697.84px;font-size:12px;">Груженый</div>
<div class="t " style="left:843px;top:690.84px;font-size:12px;">Поврежден</div>
<div class="t " style="left:1042px;top:690.84px;font-size:12px;letter-spacing:-0.2px">02.11.2023 <span class="tm">12:45</span></div>
<div class="t " style="left:1157px;top:690.84px;font-size:12px;letter-spacing:-0.2px">02.11.2023 <span class="tm">12:45</span></div>
<div class="t " style="left:1272px;top:690.84px;font-size:12px;letter-spacing:-0.2px">Выдан</div>
<div class="t b" style="left:1357px;top:690.69px;font-size:11px;color:#343c4c;letter-spacing:-0.3px">P805CB98</div>
<div class="t " style="left:1441px;top:690.84px;font-size:12px;letter-spacing:0.1px">2 дня</div>
<div class="a " style="left:0px;top:716px;width:1528px;height:56px;background:#ffffff"></div>
<div class="a " style="left:0px;top:716px;width:1528px;height:1px;background:#c5cad3"></div>
<div class="cb cboff" style="left:10px;top:729px"></div>
<div class="t lnk" style="left:63px;top:728.84px;font-size:12px;">FESU4508002</div>
<div class="t up" style="left:213px;top:729.84px;font-size:12px;">BMKT</div>
<div class="t up" style="left:318px;top:728.84px;font-size:12px;">POLAR STAR</div>
<div class="t " style="left:426px;top:728.84px;font-size:12px;letter-spacing:-0.25px">Обычные условия</div>
<div class="t " style="left:570px;top:728.84px;font-size:12px;letter-spacing:-0.1px">DC 20</div>
<div class="t " style="left:643px;top:728.84px;font-size:12px;letter-spacing:-0.4px">22G1</div>
<div class="t " style="left:843px;top:728.84px;font-size:12px;">Порожний</div>
<div class="pill" style="left:933px;top:729px;width:40px;background:#9ca3af">Мойка</div>
<div class="pill" style="left:933px;top:747px;width:84px;background:#9ca3af">Смена собствен.</div>
<div class="t " style="left:1283px;top:728.84px;font-size:12px;letter-spacing:-0.2px">Ожид. приема</div>
<div class="t " style="left:1441px;top:728.84px;font-size:12px;letter-spacing:0.1px">2 дня</div>
<div class="a " style="left:0px;top:772px;width:1528px;height:1px;background:#cdd1d6"></div>
<div class="t " style="left:13px;top:792.84px;font-size:12px;letter-spacing:-0.2px">Выбрано контейнеров: <span style="color:#2f3747">2</span></div>
<div class="a " style="left:157px;top:784px;width:110px;height:30px;background:#a5abb8;border-radius:4px"></div>
<div class="t " style="left:175px;top:792.42px;font-size:12.5px;color:#4a5162;letter-spacing:-0.3px;-webkit-text-stroke:0.3px #4a5162">Действия</div>
<svg class="a" style="left:253px;top:796px;" width="9" height="6" viewBox="0 0 9 6"><path d="M0 0 H9 L4.5 6 Z" fill="#4a5162"/></svg>
<div class="t " style="left:1145px;top:789.84px;font-size:12px;letter-spacing:-0.2px">Записей на страницу</div>
<div class="a " style="left:1269px;top:785px;width:38px;height:22px;background:#fff;border:1px solid #c9ced6;border-radius:4px"></div>
<div class="t " style="left:1276px;top:790.84px;font-size:12px;">50</div>
<svg class="a" style="left:1295px;top:795px;" width="7" height="4" viewBox="0 0 7 4"><path d="M0.5 0.5 L3.5 3.5 L6.5 0.5" stroke="#4b5364" stroke-width="1" fill="none"/></svg>
<div class="a " style="left:1324px;top:784px;width:192px;height:24px;background:#fff;border:1px solid #c9ced6;border-radius:4px"></div>
<div class="a " style="left:1348px;top:784px;width:1px;height:24px;background:#c9ced6"></div>
<div class="a " style="left:1366px;top:784px;width:1px;height:24px;background:#c9ced6"></div>
<div class="a " style="left:1385px;top:784px;width:1px;height:24px;background:#c9ced6"></div>
<div class="a " style="left:1403px;top:784px;width:1px;height:24px;background:#c9ced6"></div>
<div class="a " style="left:1422px;top:784px;width:1px;height:24px;background:#c9ced6"></div>
<div class="a " style="left:1442px;top:784px;width:1px;height:24px;background:#c9ced6"></div>
<div class="a " style="left:1473px;top:784px;width:1px;height:24px;background:#c9ced6"></div>
<div class="a " style="left:1491px;top:784px;width:1px;height:24px;background:#c9ced6"></div>
<div class="a " style="left:1403px;top:784px;width:19px;height:24px;background:#3a1fd8"></div>
<svg class="a" style="left:1331px;top:791px;" width="11" height="10" viewBox="0 0 11 10"><path d="M5 0.5 L1 5 L5 9.5 M10 0.5 L6 5 L10 9.5" stroke="#4b3fe3" stroke-width="1.3" fill="none"/></svg>
<svg class="a" style="left:1354px;top:791px;" width="6" height="10" viewBox="0 0 6 10"><path d="M5 0.5 L1 5 L5 9.5" stroke="#4b3fe3" stroke-width="1.2" fill="none"/></svg>
<div class="t " style="left:1372px;top:790.84px;font-size:12px;color:#4b3fe3">1</div>
<div class="t " style="left:1390px;top:790.84px;font-size:12px;color:#4b3fe3">2</div>
<div class="t " style="left:1409px;top:790.84px;font-size:12px;color:#fff">3</div>
<div class="t " style="left:1427px;top:790.84px;font-size:12px;color:#4b3fe3">...</div>
<div class="t " style="left:1447px;top:790.84px;font-size:12px;color:#4b3fe3">145</div>
<svg class="a" style="left:1479px;top:791px;" width="6" height="10" viewBox="0 0 6 10"><path d="M1 0.5 L5 5 L1 9.5" stroke="#4b3fe3" stroke-width="1.2" fill="none"/></svg>
<svg class="a" style="left:1497px;top:791px;" width="11" height="10" viewBox="0 0 11 10"><path d="M1 0.5 L5 5 L1 9.5 M6 0.5 L10 5 L6 9.5" stroke="#4b3fe3" stroke-width="1.3" fill="none"/></svg>
<div class="a " style="left:1528px;top:0px;width:1px;height:820px;background:#dfe2e7"></div>
</body></html>
